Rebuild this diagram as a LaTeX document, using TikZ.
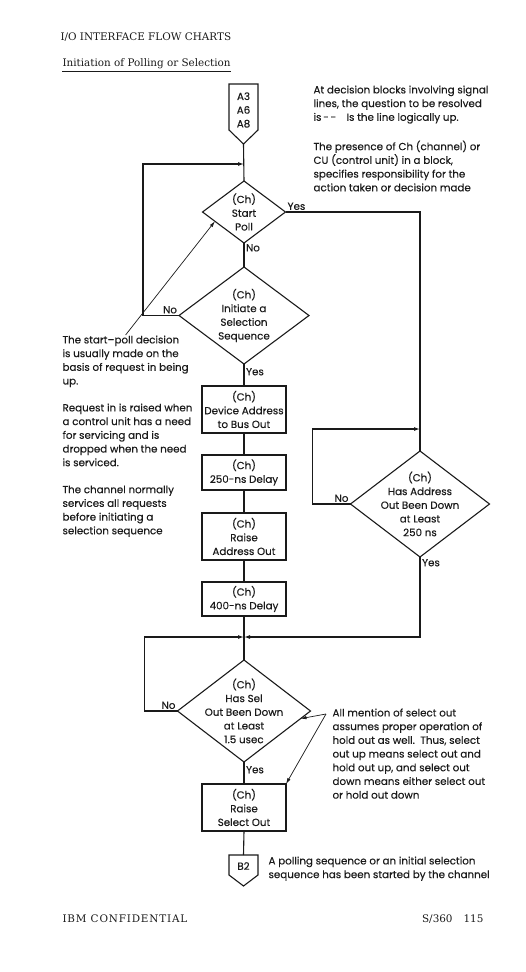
\documentclass[tikz,border=0pt]{standalone}
\usepackage{fontspec}
\setmainfont{DejaVu Serif}
\newfontfamily\chartfont{Poppins}[RawFeature={embolden=0.3}]
\usepackage{xcolor}
\usepackage{tikz}
\usetikzlibrary{arrows.meta,positioning,shapes.geometric,calc}
\definecolor{ink}{HTML}{1A1A1A}

\begin{document}
\begin{tikzpicture}[x=1pt,y=-1pt,>={Latex[length=6pt,width=4pt]},line width=1.1pt,draw=ink,
  every node/.style={font=\chartfont\fontsize{10.3}{13.7}\selectfont,text=ink},
  box/.style={draw=ink,rectangle,minimum width=84,inner sep=0pt,outer sep=0pt,align=center},
  decision/.style={draw=ink,diamond,inner sep=0pt,outer sep=0pt},
  note/.style={align=left,anchor=north west,inner sep=0pt},
  tag/.style={inner sep=1.5pt},
  page/.style={inner sep=0pt,font=\rmfamily\fontsize{10.4}{12}\selectfont},
  pointer/.style={->,line width=0.7pt,>={Latex[length=6pt,width=3.5pt]}}]
\useasboundingbox (0,0) rectangle (526,972);

\node[page,anchor=west] (title) at (60,37) {I/O INTERFACE FLOW CHARTS};
\node[page,anchor=west] (sub) at (62,64) {Initiation of Polling or Selection};
\draw[line width=0.7pt] ([yshift=-2]sub.south west) -- ([yshift=-2]sub.south east);

\draw (229,84) -- (258,84) -- (258,130) -- (243.5,144) -- (229,130) -- cycle;
\node[align=center,inner sep=0pt] (a3) at (243.5,110) {A3\\A6\\A8};
\coordinate (a3tip) at (243.5,144);

\node[note] (np1) at (313,85) {At decision blocks involving signal\\lines, the question to be resolved\\is\,-\,-\quad Is the line logically up.};
\node[note] (np2) at (313,140) {The presence of Ch (channel) or\\CU (control unit) in a block,\\specifies responsibility for the\\action taken or decision made};

\node[decision,minimum width=83,minimum height=62,label={[name=pollt,align=center]center:{(Ch)\\Start\\Poll}}] (poll) at (244,212) {};
\node[decision,minimum width=130,minimum height=97,label={[name=selt,align=center]center:{(Ch)\\Initiate a\\Selection\\Sequence}}] (sel) at (244,315.5) {};
\node[decision,minimum width=139,minimum height=106,label={[name=addrt,align=center]center:{(Ch)\\Has Address\\Out Been Down\\at Least\\250 ns}}] (addr) at (420,504) {};
\node[decision,minimum width=133,minimum height=102,label={[name=seldownt,align=center]center:{(Ch)\\Has Sel\\Out Been Down\\at Least\\1.5 usec}}] (seldown) at (244,711) {};

\node[box,minimum height=47] (b1) at (244,409.5) {(Ch)\\Device Address\\to Bus Out};
\node[box,minimum height=35] (b2) at (244,472.5) {(Ch)\\250-ns Delay};
\node[box,minimum height=47] (b3) at (244,536.5) {(Ch)\\Raise\\Address Out};
\node[box,minimum height=34] (b4) at (244,599) {(Ch)\\400-ns Delay};
\node[box,minimum height=47] (b5) at (244,807.5) {(Ch)\\Raise\\Select Out};

\draw (229,855) -- (258,855) -- (258,875) -- (243.5,886) -- (229,875) -- cycle;
\node[inner sep=0pt] (b2off) at (243.5,866) {B2};
\coordinate (b2top) at (243.5,855);

\node[note] (nsp) at (62,335) {The start–poll decision\\is usually made on the\\basis of request in being\\up.};
\node[note] (nreq) at (62,403) {Request in is raised when\\a control unit has a need\\for servicing and is\\dropped when the need\\is serviced.};
\node[note] (nchan) at (62,485) {The channel normally\\services all requests\\before initiating a\\selection sequence};
\node[note] (nsel) at (332,708) {All mention of select out\\assumes proper operation of\\hold out as well.\ \ Thus, select\\out up means select out and\\hold out up, and select out\\down means either select out\\or hold out down};
\node[note] (nb2) at (268,856) {A polling sequence or an initial selection\\sequence has been started by the channel};

\node[page,anchor=west] (foot) at (62,919) {\addfontfeature{LetterSpace=8}IBM CONFIDENTIAL};
\node[page,anchor=east] (pageno) at (484,919) {S/360\hspace{11pt}115};

\coordinate (j1) at (244,164);
\coordinate (j3) at (420,429);
\coordinate (j4) at (244,637);
\coordinate (annsel) at (326,714);

\draw (a3tip) -- (poll.north);
\draw (poll.south) -- node[tag,anchor=west,pos=0.2] (no1) {No} (sel.north);
\draw (poll.east) -| (addr.north);
\node[tag,anchor=south west] (yes1) at (poll.east) {Yes};
\draw[->] (sel.west) -- ++(-36,0) |- (j1);
\node[tag,anchor=south east] (no2) at (sel.west) {No};
\draw (sel.south) -- node[tag,anchor=west,pos=0.35] (yes2) {Yes} (b1.north);
\draw (b1) -- (b2);
\draw (b2) -- (b3);
\draw (b3) -- (b4);
\draw (b4.south) -- (seldown.north);
\draw[->] (addr.west) -- ++(-38,0) |- (j3);
\node[tag,anchor=south east] (no3) at (addr.west) {No};
\draw[->] (addr.south) |- (j4);
\node[tag,anchor=north west] (yes3) at (addr.south) {Yes};
\draw[->] (seldown.west) -- ++(-33,0) |- (j4);
\node[tag,anchor=south east] (no4) at (seldown.west) {No};
\draw (seldown.south) -- node[tag,anchor=west,pos=0.35] (yes4) {Yes} (b5.north);
\draw (b5.south) -- (b2top);

\draw[pointer] (nsp.north) -- ($(poll.west)!0.3!(poll.south)$);
\draw[pointer] (annsel) -- ($(seldown.east)!0.15!(seldown.south)$);
\draw[pointer] (annsel) -- (b5.north east);
\end{tikzpicture}
\end{document}
